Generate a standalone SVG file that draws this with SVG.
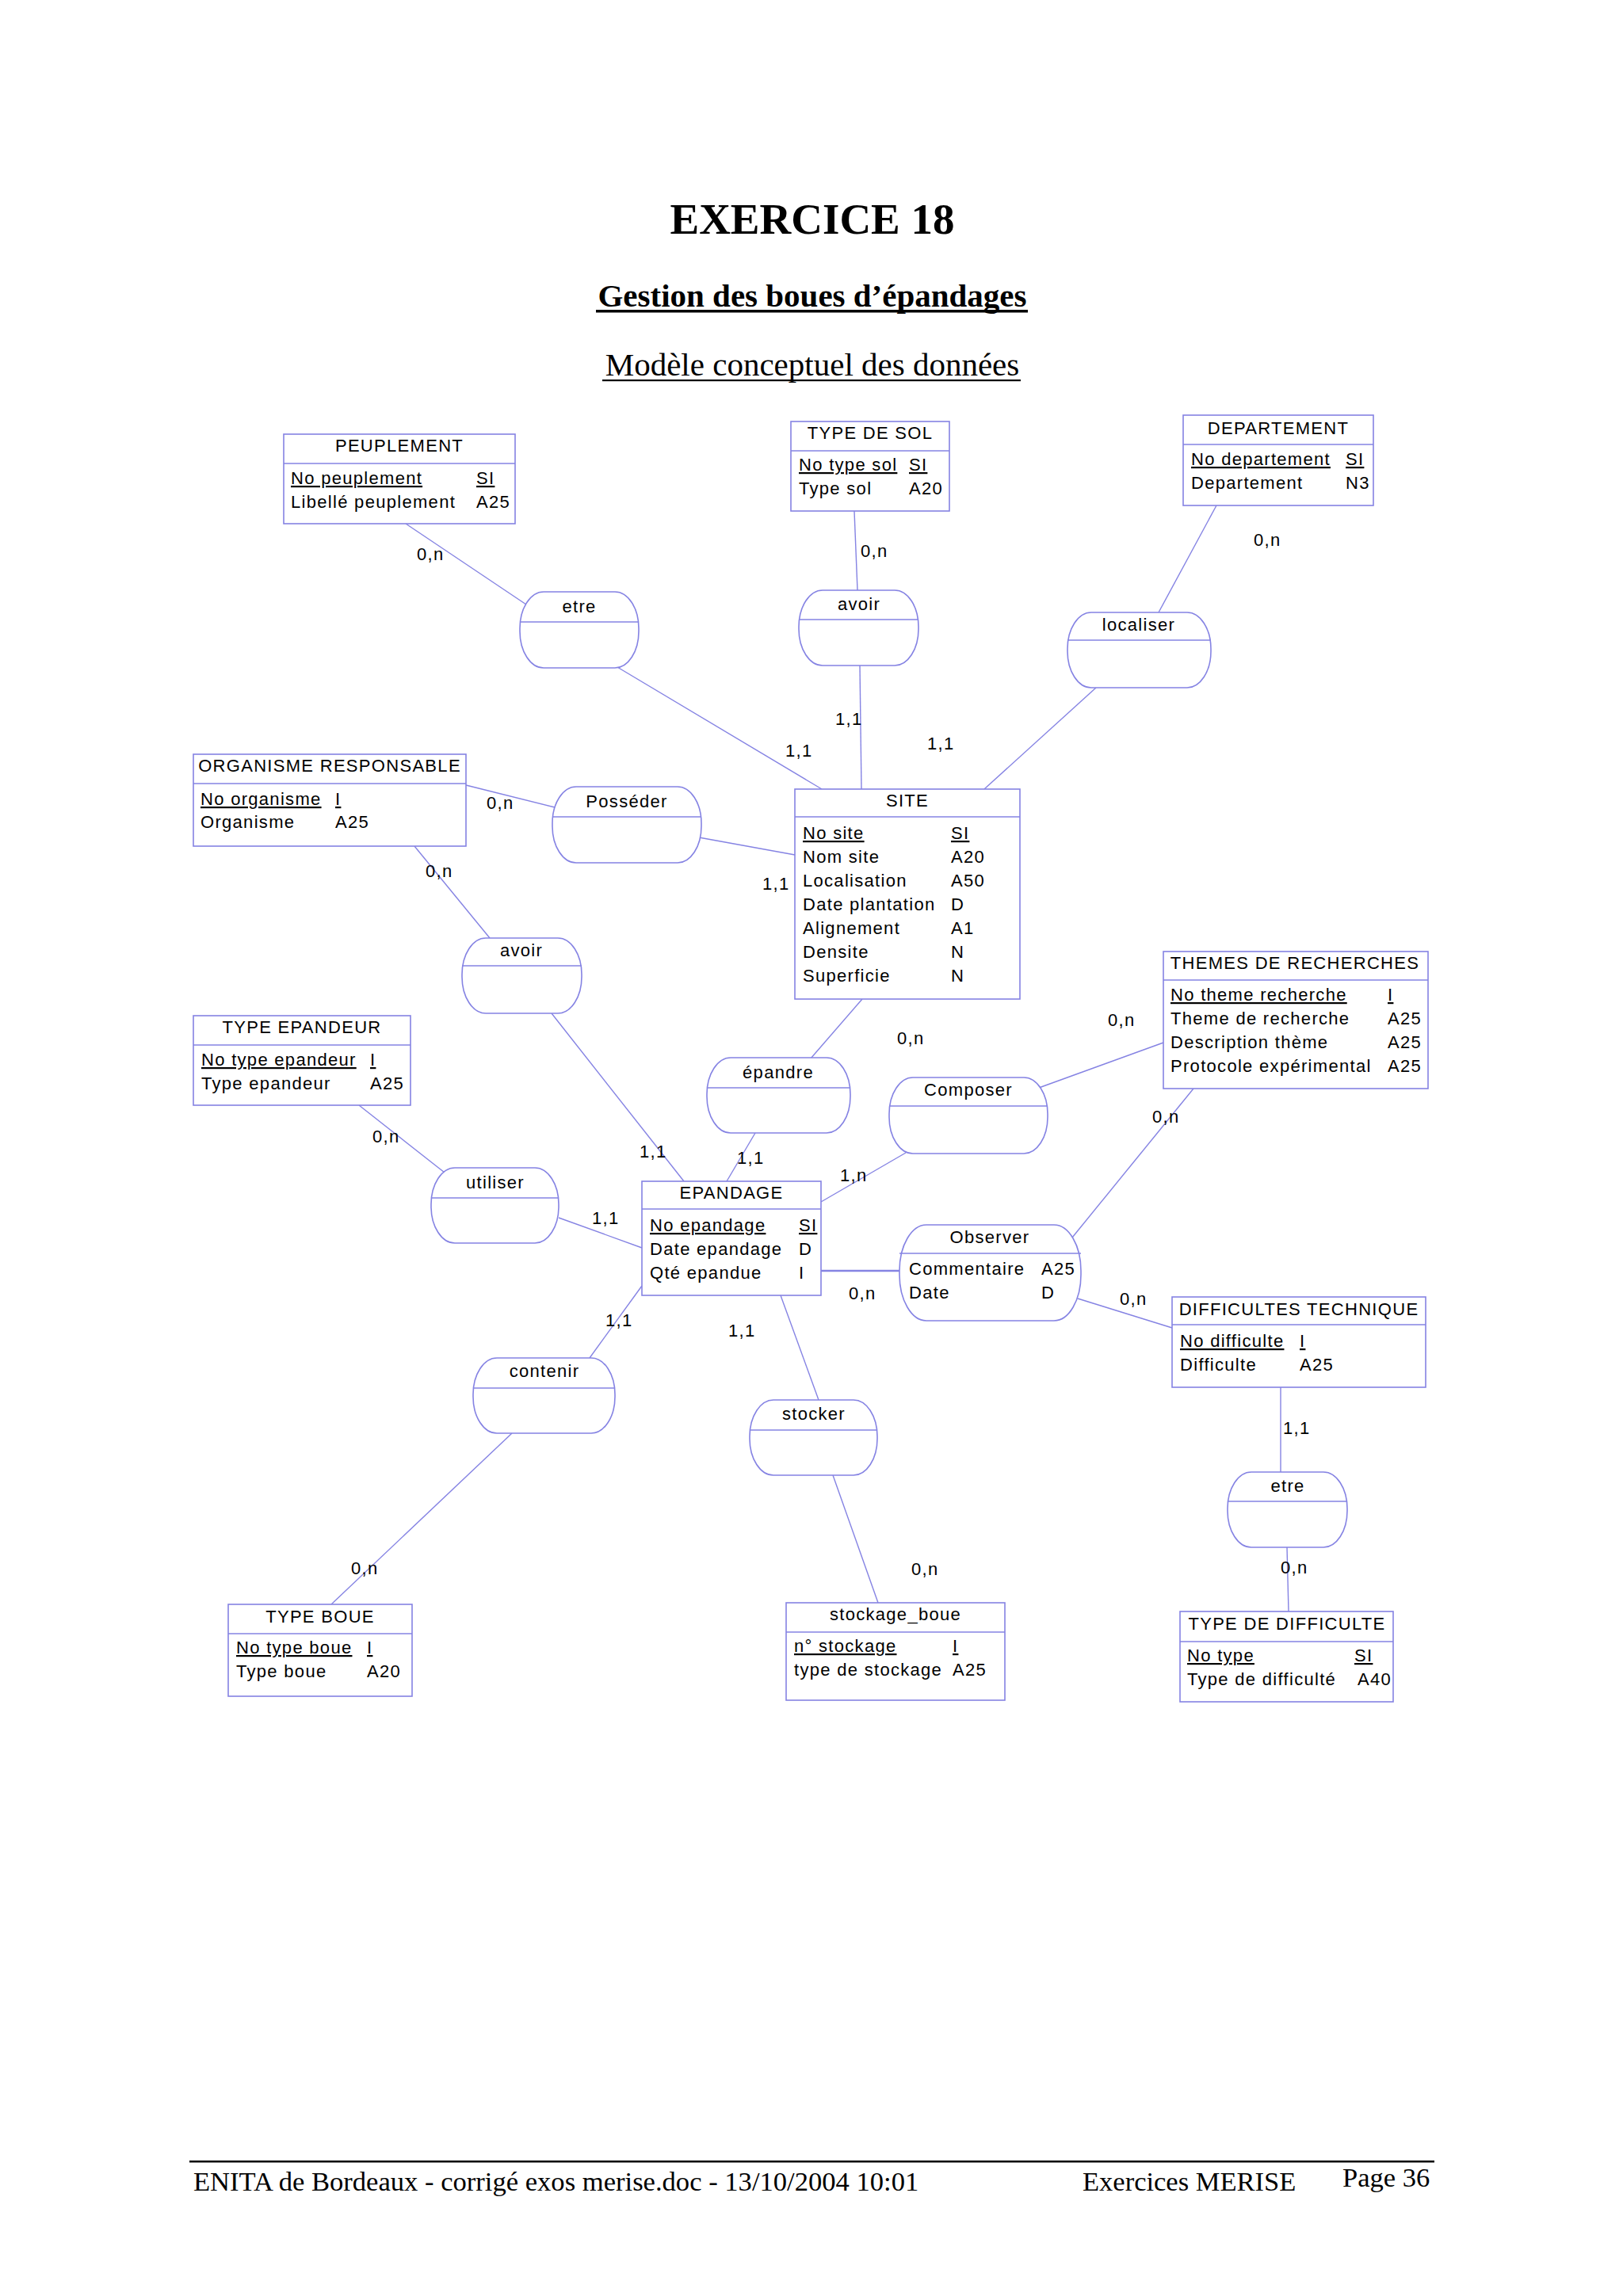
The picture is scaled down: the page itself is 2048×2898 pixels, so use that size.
<svg xmlns="http://www.w3.org/2000/svg" width="2048" height="2898" viewBox="0 0 2048 2898">
<style>
.bg{fill:#ffffff}
.box{fill:#ffffff;stroke:#8583e3;stroke-width:1.6}
.sep{stroke:#8583e3;stroke-width:1.6}
.ln{stroke:#8583e3;stroke-width:1.4;fill:none}
.ln2{stroke:#8583e3;stroke-width:2.6;fill:none}
text{font-family:"Liberation Sans",Arial,sans-serif;font-size:22px;letter-spacing:1.3px;fill:#000}
.c{text-anchor:middle}
.u{text-decoration:underline}
.card{font-size:22px}
.ser{font-family:"Liberation Serif","Times New Roman",serif;letter-spacing:0}
</style>
<defs>
<clipPath id="clipTD"><rect x="1489" y="2034" width="268" height="114"/></clipPath>
</defs>
<rect class="bg" x="0" y="0" width="2048" height="2898"/>

<g id="titles">
<text class="ser c" x="1025" y="295" style="font-size:55px;font-weight:bold">EXERCICE 18</text>
<text class="ser c" x="1025" y="387" style="font-size:41px;font-weight:bold">Gestion des boues d’épandages</text>
<rect x="752" y="391" width="545" height="3.5" fill="#000"/>
<text class="ser c" x="1025" y="474" style="font-size:41px">Modèle conceptuel des données</text>
<rect x="760" y="479" width="528" height="2.2" fill="#000"/>
</g>

<g id="connectors">
<line class="ln" x1="512" y1="661" x2="664" y2="763"/>
<line class="ln" x1="779" y1="842" x2="1037" y2="996"/>
<line class="ln" x1="1078" y1="645" x2="1082" y2="745"/>
<line class="ln" x1="1085" y1="840" x2="1087" y2="996"/>
<line class="ln" x1="1535" y1="638" x2="1462" y2="773"/>
<line class="ln" x1="1383" y1="868" x2="1242" y2="996"/>
<line class="ln" x1="588" y1="991" x2="700" y2="1019"/>
<line class="ln" x1="882" y1="1057" x2="1003" y2="1079"/>
<line class="ln" x1="523" y1="1068" x2="618" y2="1184"/>
<line class="ln" x1="696" y1="1279" x2="863" y2="1491"/>
<line class="ln" x1="1088" y1="1261" x2="1023" y2="1336"/>
<line class="ln" x1="953" y1="1430" x2="917" y2="1491"/>
<line class="ln" x1="453" y1="1395" x2="561" y2="1480"/>
<line class="ln" x1="705" y1="1537" x2="810" y2="1575"/>
<line class="ln" x1="1036" y1="1517" x2="1143" y2="1455"/>
<line class="ln" x1="1311" y1="1373" x2="1468" y2="1316"/>
<line class="ln" x1="1506" y1="1374" x2="1353" y2="1562"/>
<line class="ln2" x1="1036" y1="1604" x2="1135" y2="1604"/>
<line class="ln" x1="1360" y1="1639" x2="1479" y2="1676"/>
<line class="ln" x1="985" y1="1635" x2="1033" y2="1767"/>
<line class="ln" x1="1051" y1="1862" x2="1108" y2="2023"/>
<line class="ln" x1="810" y1="1623" x2="744" y2="1714"/>
<line class="ln" x1="646" y1="1809" x2="418" y2="2025"/>
<line class="ln" x1="1616" y1="1751" x2="1616" y2="1858"/>
<line class="ln" x1="1624" y1="1953" x2="1626" y2="2034"/>

<text class="card" x="526" y="707">0,n</text>
<text class="card" x="991" y="955">1,1</text>
<text class="card" x="1086" y="703">0,n</text>
<text class="card" x="1054" y="915">1,1</text>
<text class="card" x="1582" y="689">0,n</text>
<text class="card" x="1170" y="946">1,1</text>
<text class="card" x="614" y="1021">0,n</text>
<text class="card" x="962" y="1123">1,1</text>
<text class="card" x="537" y="1107">0,n</text>
<text class="card" x="807" y="1461">1,1</text>
<text class="card" x="1132" y="1318">0,n</text>
<text class="card" x="930" y="1469">1,1</text>
<text class="card" x="470" y="1442">0,n</text>
<text class="card" x="747" y="1545">1,1</text>
<text class="card" x="1060" y="1491">1,n</text>
<text class="card" x="1398" y="1295">0,n</text>
<text class="card" x="1454" y="1417">0,n</text>
<text class="card" x="1071" y="1640">0,n</text>
<text class="card" x="1413" y="1647">0,n</text>
<text class="card" x="919" y="1687">1,1</text>
<text class="card" x="1150" y="1988">0,n</text>
<text class="card" x="764" y="1674">1,1</text>
<text class="card" x="443" y="1987">0,n</text>
<text class="card" x="1619" y="1810">1,1</text>
<text class="card" x="1616" y="1986">0,n</text>
</g>

<g id="PEUPLEMENT">
<rect class="box" x="358" y="548" width="292" height="113"/>
<line class="sep" x1="358" y1="585" x2="650" y2="585"/>
<text class="c" x="504" y="570">PEUPLEMENT</text>
<text class="u" x="367" y="611">No peuplement</text><text class="u" x="601" y="611">SI</text>
<text x="367" y="641">Libellé peuplement</text><text x="601" y="641">A25</text>
</g>

<g id="TYPE_DE_SOL">
<rect class="box" x="998" y="532" width="200" height="113"/>
<line class="sep" x1="998" y1="569" x2="1198" y2="569"/>
<text class="c" x="1098" y="554">TYPE DE SOL</text>
<text class="u" x="1008" y="594">No type sol</text><text class="u" x="1147" y="594">SI</text>
<text x="1008" y="624">Type sol</text><text x="1147" y="624">A20</text>
</g>

<g id="DEPARTEMENT">
<rect class="box" x="1493" y="524" width="240" height="114"/>
<line class="sep" x1="1493" y1="561" x2="1733" y2="561"/>
<text class="c" x="1613" y="548">DEPARTEMENT</text>
<text class="u" x="1503" y="587">No departement</text><text class="u" x="1698" y="587">SI</text>
<text x="1503" y="617">Departement</text><text x="1698" y="617">N3</text>
</g>

<g id="ORGANISME_RESPONSABLE">
<rect class="box" x="244" y="952" width="344" height="116"/>
<line class="sep" x1="244" y1="989" x2="588" y2="989"/>
<text class="c" x="416" y="974">ORGANISME RESPONSABLE</text>
<text class="u" x="253" y="1016">No organisme</text><text class="u" x="423" y="1016">I</text>
<text x="253" y="1045">Organisme</text><text x="423" y="1045">A25</text>
</g>

<g id="SITE">
<rect class="box" x="1003" y="996" width="284" height="265"/>
<line class="sep" x1="1003" y1="1031" x2="1287" y2="1031"/>
<text class="c" x="1145" y="1018">SITE</text>
<text class="u" x="1013" y="1059">No site</text><text class="u" x="1200" y="1059">SI</text>
<text x="1013" y="1089">Nom site</text><text x="1200" y="1089">A20</text>
<text x="1013" y="1119">Localisation</text><text x="1200" y="1119">A50</text>
<text x="1013" y="1149">Date plantation</text><text x="1200" y="1149">D</text>
<text x="1013" y="1179">Alignement</text><text x="1200" y="1179">A1</text>
<text x="1013" y="1209">Densite</text><text x="1200" y="1209">N</text>
<text x="1013" y="1239">Superficie</text><text x="1200" y="1239">N</text>
</g>

<g id="THEMES_DE_RECHERCHES">
<rect class="box" x="1468" y="1201" width="334" height="173"/>
<line class="sep" x1="1468" y1="1237" x2="1802" y2="1237"/>
<text class="c" x="1634" y="1223">THEMES DE RECHERCHES</text>
<text class="u" x="1477" y="1263">No theme recherche</text><text class="u" x="1751" y="1263">I</text>
<text x="1477" y="1293">Theme de recherche</text><text x="1751" y="1293">A25</text>
<text x="1477" y="1323">Description thème</text><text x="1751" y="1323">A25</text>
<text x="1477" y="1353">Protocole expérimental</text><text x="1751" y="1353">A25</text>
</g>

<g id="TYPE_EPANDEUR">
<rect class="box" x="244" y="1282" width="274" height="113"/>
<line class="sep" x1="244" y1="1319" x2="518" y2="1319"/>
<text class="c" x="381" y="1304">TYPE EPANDEUR</text>
<text class="u" x="254" y="1345">No type epandeur</text><text class="u" x="467" y="1345">I</text>
<text x="254" y="1375">Type epandeur</text><text x="467" y="1375">A25</text>
</g>

<g id="EPANDAGE">
<rect class="box" x="810" y="1491" width="226" height="144"/>
<line class="sep" x1="810" y1="1526" x2="1036" y2="1526"/>
<text class="c" x="923" y="1513">EPANDAGE</text>
<text class="u" x="820" y="1554">No epandage</text><text class="u" x="1008" y="1554">SI</text>
<text x="820" y="1584">Date epandage</text><text x="1008" y="1584">D</text>
<text x="820" y="1614">Qté epandue</text><text x="1008" y="1614">I</text>
</g>

<g id="DIFFICULTES_TECHNIQUE">
<rect class="box" x="1479" y="1637" width="320" height="114"/>
<line class="sep" x1="1479" y1="1672" x2="1799" y2="1672"/>
<text class="c" x="1639" y="1660">DIFFICULTES TECHNIQUE</text>
<text class="u" x="1489" y="1700">No difficulte</text><text class="u" x="1640" y="1700">I</text>
<text x="1489" y="1730">Difficulte</text><text x="1640" y="1730">A25</text>
</g>

<g id="TYPE_BOUE">
<rect class="box" x="288" y="2025" width="232" height="116"/>
<line class="sep" x1="288" y1="2062" x2="520" y2="2062"/>
<text class="c" x="404" y="2048">TYPE BOUE</text>
<text class="u" x="298" y="2087">No type boue</text><text class="u" x="463" y="2087">I</text>
<text x="298" y="2117">Type boue</text><text x="463" y="2117">A20</text>
</g>

<g id="stockage_boue">
<rect class="box" x="992" y="2023" width="276" height="123"/>
<line class="sep" x1="992" y1="2060" x2="1268" y2="2060"/>
<text class="c" x="1130" y="2045">stockage_boue</text>
<text class="u" x="1002" y="2085">n° stockage</text><text class="u" x="1202" y="2085">I</text>
<text x="1002" y="2115">type de stockage</text><text x="1202" y="2115">A25</text>
</g>

<g id="TYPE_DE_DIFFICULTE">
<rect class="box" x="1489" y="2034" width="269" height="114"/>
<line class="sep" x1="1489" y1="2072" x2="1758" y2="2072"/>
<text class="c" x="1624" y="2057">TYPE DE DIFFICULTE</text>
<text class="u" x="1498" y="2097">No type</text><text class="u" x="1709" y="2097">SI</text>
<text x="1498" y="2127">Type de difficulté</text>
<text x="1713" y="2127" clip-path="url(#clipTD)">A40</text>
</g>

<g id="assoc_etre_1">
<rect class="box" x="656" y="747" width="150" height="96" rx="30" ry="46"/>
<line class="sep" x1="656" y1="785" x2="806" y2="785"/>
<text class="c" x="731" y="773">etre</text>
</g>
<g id="assoc_avoir_1">
<rect class="box" x="1008" y="745" width="151" height="95" rx="30" ry="46"/>
<line class="sep" x1="1008" y1="782" x2="1159" y2="782"/>
<text class="c" x="1084" y="770">avoir</text>
</g>
<g id="assoc_localiser">
<rect class="box" x="1347" y="773" width="181" height="95" rx="30" ry="46"/>
<line class="sep" x1="1347" y1="808" x2="1528" y2="808"/>
<text class="c" x="1437" y="796">localiser</text>
</g>
<g id="assoc_posseder">
<rect class="box" x="697" y="993" width="188" height="96" rx="30" ry="46"/>
<line class="sep" x1="697" y1="1031" x2="885" y2="1031"/>
<text class="c" x="791" y="1019">Posséder</text>
</g>
<g id="assoc_avoir_2">
<rect class="box" x="583" y="1184" width="151" height="95" rx="30" ry="46"/>
<line class="sep" x1="583" y1="1219" x2="734" y2="1219"/>
<text class="c" x="658" y="1207">avoir</text>
</g>
<g id="assoc_epandre">
<rect class="box" x="892" y="1335" width="181" height="95" rx="30" ry="46"/>
<line class="sep" x1="892" y1="1373" x2="1073" y2="1373"/>
<text class="c" x="982" y="1361">épandre</text>
</g>
<g id="assoc_composer">
<rect class="box" x="1122" y="1360" width="200" height="96" rx="30" ry="46"/>
<line class="sep" x1="1122" y1="1396" x2="1322" y2="1396"/>
<text class="c" x="1222" y="1383">Composer</text>
</g>
<g id="assoc_utiliser">
<rect class="box" x="544" y="1474" width="161" height="95" rx="30" ry="46"/>
<line class="sep" x1="544" y1="1512" x2="705" y2="1512"/>
<text class="c" x="625" y="1500">utiliser</text>
</g>
<g id="assoc_observer">
<rect class="box" x="1135" y="1546" width="229" height="121" rx="34" ry="58"/>
<line class="sep" x1="1135" y1="1582" x2="1364" y2="1582"/>
<text class="c" x="1249" y="1569">Observer</text>
<text x="1147" y="1609">Commentaire</text><text x="1314" y="1609">A25</text>
<text x="1147" y="1639">Date</text><text x="1314" y="1639">D</text>
</g>
<g id="assoc_contenir">
<rect class="box" x="597" y="1714" width="179" height="95" rx="30" ry="46"/>
<line class="sep" x1="597" y1="1752" x2="776" y2="1752"/>
<text class="c" x="687" y="1738">contenir</text>
</g>
<g id="assoc_stocker">
<rect class="box" x="946" y="1767" width="161" height="95" rx="30" ry="46"/>
<line class="sep" x1="946" y1="1805" x2="1107" y2="1805"/>
<text class="c" x="1027" y="1792">stocker</text>
</g>
<g id="assoc_etre_2">
<rect class="box" x="1549" y="1858" width="151" height="95" rx="30" ry="46"/>
<line class="sep" x1="1549" y1="1895" x2="1700" y2="1895"/>
<text class="c" x="1625" y="1883">etre</text>
</g>

<g id="footer">
<rect x="239" y="2727" width="1571" height="2.5" fill="#000"/>
<text class="ser" x="244" y="2765" style="font-size:34.6px">ENITA de Bordeaux - corrigé exos merise.doc - 13/10/2004 10:01</text>
<text class="ser" x="1366" y="2765" style="font-size:34.5px">Exercices MERISE</text>
<text class="ser" x="1694" y="2760" style="font-size:34.5px">Page 36</text>
</g>
</svg>
